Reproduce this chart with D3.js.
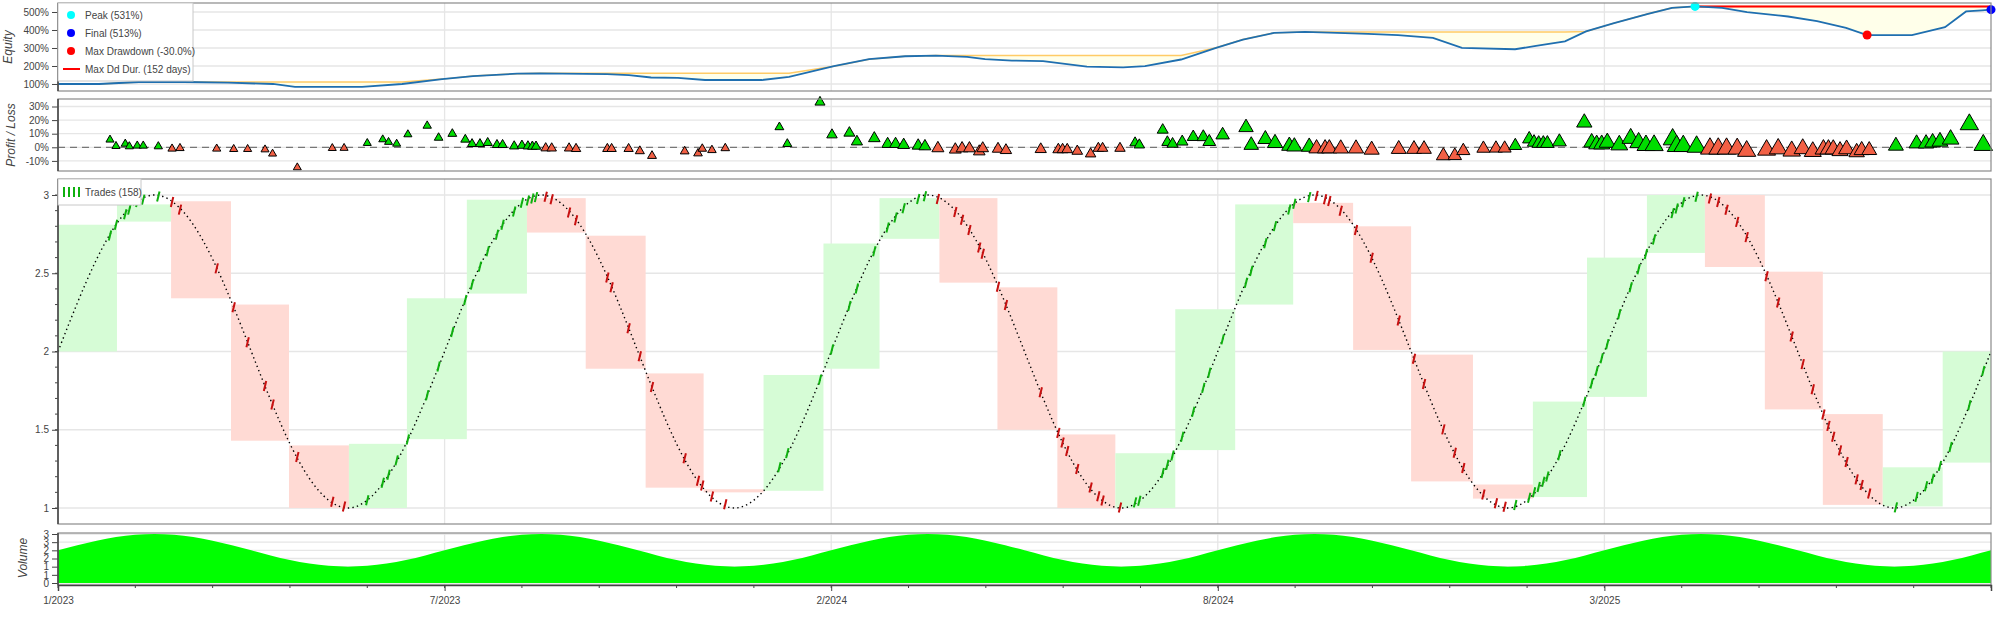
<!DOCTYPE html>
<html>
<head>
<meta charset="utf-8">
<script src="https://cdn.jsdelivr.net/npm/d3@7"></script>
<style>
  html, body { margin: 0; padding: 0; background: #fff; }
  text { font-family: "Liberation Sans", Arial, sans-serif; }
</style>
</head>
<body>
<svg id="chart" width="2000" height="624"></svg>
<script>
// ---- data (x in bar-index units, 0..100) ----
const close = [
  2.00, 2.31, 2.59, 2.81, 2.95, 3.00, 2.95, 2.81, 2.59, 2.31, 2.00, 1.69, 1.41, 1.19, 1.05, 1.00, 1.05, 1.19, 1.41, 1.69,
  2.00, 2.31, 2.59, 2.81, 2.95, 3.00, 2.95, 2.81, 2.59, 2.31, 2.00, 1.69, 1.41, 1.19, 1.05, 1.00, 1.05, 1.19, 1.41, 1.69,
  2.00, 2.31, 2.59, 2.81, 2.95, 3.00, 2.95, 2.81, 2.59, 2.31, 2.00, 1.69, 1.41, 1.19, 1.05, 1.00, 1.05, 1.19, 1.41, 1.69,
  2.00, 2.31, 2.59, 2.81, 2.95, 3.00, 2.95, 2.81, 2.59, 2.31, 2.00, 1.69, 1.41, 1.19, 1.05, 1.00, 1.05, 1.19, 1.41, 1.69,
  2.00, 2.31, 2.59, 2.81, 2.95, 3.00, 2.95, 2.81, 2.59, 2.31, 2.00, 1.69, 1.41, 1.19, 1.05, 1.00, 1.05, 1.19, 1.41, 1.69,
  2.00
];
const volume = [
  2.00, 2.31, 2.59, 2.81, 2.95, 3.00, 2.95, 2.81, 2.59, 2.31, 2.00, 1.69, 1.41, 1.19, 1.05, 1.00, 1.05, 1.19, 1.41, 1.69,
  2.00, 2.31, 2.59, 2.81, 2.95, 3.00, 2.95, 2.81, 2.59, 2.31, 2.00, 1.69, 1.41, 1.19, 1.05, 1.00, 1.05, 1.19, 1.41, 1.69,
  2.00, 2.31, 2.59, 2.81, 2.95, 3.00, 2.95, 2.81, 2.59, 2.31, 2.00, 1.69, 1.41, 1.19, 1.05, 1.00, 1.05, 1.19, 1.41, 1.69,
  2.00, 2.31, 2.59, 2.81, 2.95, 3.00, 2.95, 2.81, 2.59, 2.31, 2.00, 1.69, 1.41, 1.19, 1.05, 1.00, 1.05, 1.19, 1.41, 1.69,
  2.00, 2.31, 2.59, 2.81, 2.95, 3.00, 2.95, 2.81, 2.59, 2.31, 2.00, 1.69, 1.41, 1.19, 1.05, 1.00, 1.05, 1.19, 1.41, 1.69,
  2.00
];

// monthly (superimposed) bars
const monthStart = [0, 3.05, 5.85, 8.95, 11.95, 15.05, 18.05, 21.15, 24.26, 27.3, 30.4, 33.4, 36.5, 39.6, 42.5, 45.6, 48.6,
  51.7, 54.7, 57.8, 60.9, 63.9, 67.0, 70.0, 73.2, 76.3, 79.1, 82.2, 85.2, 88.3, 91.3, 94.4, 97.5];
const monthEnd = [3.05, 5.85, 8.95, 11.95, 15.05, 18.05, 21.15, 24.26, 27.3, 30.4, 33.4, 36.5, 39.6, 42.5, 45.6, 48.6, 51.7,
  54.7, 57.8, 60.9, 63.9, 67.0, 70.0, 73.2, 76.3, 79.1, 82.2, 85.2, 88.3, 91.3, 94.4, 97.5, 100];
const monthOpen = [2.00, 2.83, 2.96, 2.30, 1.40, 1.00, 1.44, 2.37, 2.98, 2.74, 1.86, 1.12, 1.11, 1.89, 2.72, 2.98, 2.41,
  1.47, 1.00, 1.37, 2.30, 2.95, 2.80, 1.98, 1.15, 1.07, 1.71, 2.63, 3.00, 2.51, 1.60, 1.01, 1.29];
const monthClose = [2.81, 2.94, 2.34, 1.43, 1.00, 1.41, 2.34, 2.97, 2.76, 1.89, 1.13, 1.10, 1.85, 2.69, 2.98, 2.44, 1.50,
  1.00, 1.35, 2.27, 2.94, 2.82, 2.01, 1.17, 1.06, 1.68, 2.60, 3.00, 2.54, 1.63, 1.02, 1.26, 2.00];

// trades: exit position and P/L %
const tradeX = [
  2.69, 3.0, 3.48, 3.69, 4.10, 4.41, 5.19, 5.90, 6.31, 8.21, 9.09, 9.81, 10.71, 11.1, 12.38, 14.19, 14.80,
  16.0, 16.8, 17.1, 17.52, 18.1, 19.1, 19.69, 20.4, 21.07, 21.42, 21.83, 22.23, 22.71, 23.0, 23.6, 24.0, 24.31, 24.54, 24.73, 25.23,
  25.54, 26.44, 26.8, 28.42, 28.64, 29.52, 30.1, 30.73, 32.42, 33.11, 33.33, 33.83, 34.52, 37.32, 37.73, 39.42, 40.04,
  40.94, 41.33, 42.23, 42.92, 43.33, 43.75, 44.5, 44.85, 45.52, 46.42, 46.77, 47.15, 47.66, 47.84, 48.63, 49.04, 50.84,
  51.75, 51.97, 52.21, 52.73, 53.42, 53.82, 54.04, 54.94, 55.72, 55.94, 57.15, 57.39, 57.66, 58.16, 58.73, 59.25, 59.56,
  60.25, 61.46, 61.73, 62.46, 62.96, 63.70, 63.96, 64.73, 65.11, 65.55, 65.77, 66.36, 67.15, 67.96, 69.36, 70.15, 70.67,
  71.67, 72.26, 72.70, 73.74, 74.39, 74.84, 75.39, 76.11, 76.36, 76.6, 76.84, 77.05,
  77.67, 78.96, 79.34, 79.6, 79.86, 80.15, 80.77, 81.36, 81.77, 82.15, 82.57, 83.53, 83.74, 84.08, 84.77, 85.46, 85.89,
  86.32, 86.87, 87.36, 88.39, 88.99, 89.69, 90.26, 90.78, 91.33, 91.59, 91.84, 92.19, 92.53, 93.05, 93.31, 93.7, 95.08,
  96.15, 96.64, 96.98, 97.36, 97.91, 98.88, 99.6
];
const tradePnl = [
  5.9, 1.2, 2.9, 1.0, 1.5, 1.5, 1.0, -0.7, -0.3, -0.7, -1.0, -1.0, -1.3, -4.4, -14.5, -0.3, -0.2,
  3.4, 6.1, 4.2, 2.9, 9.8, 16.2, 7.4, 10.3, 6.1, 2.9, 2.9, 3.7, 2.2, 2.2, 1.2, 1.7, 1.2, 1.0, 1.0, -0.2,
  -0.3, -0.3, -0.7, -0.7, -0.7, -0.7, -2.4, -5.9, -2.6, -4.1, -0.7, -1.7, -0.3, 15.2, 2.9, 33.6, 9.6,
  11.0, 4.6, 7.1, 2.9, 2.9, 2.2, 1.7, 1.2, -0.2, -1.2, -0.3, -0.3, -2.6, -0.3, -0.7, -1.7, -1.0,
  -1.2, -1.2, -1.2, -2.4, -4.4, -0.3, -0.3, -0.3, 3.7, 2.2, 13.2, 4.2, 2.9, 4.6, 8.1, 8.1, 4.6,
  9.6, 15.2, 2.2, 6.6, 3.7, 1.7, 1.2, 1.0, -0.2, -0.2, -0.2, -0.3, -0.3, -1.2, -0.7, -0.7, -0.7,
  -5.6, -5.6, -2.0, -0.3, -0.2, -0.2, 1.7, 6.6, 4.2, 3.4, 3.4, 3.4,
  4.6, 18.8, 4.2, 2.9, 2.9, 4.2, 2.4, 7.3, 4.2, 2.2, 2.2, 6.6, 1.7, 1.7, 1.2, -0.2, -0.2,
  -0.2, -0.3, -2.0, -1.2, -0.3, -2.0, -0.3, -2.4, -0.7, -0.7, -0.7, -2.0, -0.7, -3.0, -1.5, -1.5, 1.7,
  3.4, 3.4, 4.2, 4.9, 6.6, 17.6, 2.4
];

// equity curve (%)
const eqX = [0, 2.12, 4.19, 6.52, 8.79, 11.12, 12.26, 15.73, 17.8, 19.87, 21.47, 23.75, 24.94, 28.4, 29.54, 30.68, 32.07,
  33.47, 36.42, 37.82, 40.14, 41.96, 43.82, 45.42, 47.03, 47.96, 49.35, 50.96, 53.23, 55.1, 56.23, 58.1, 59.91, 61.3,
  62.91, 64.51, 66.17, 67.77, 69.32, 71.13, 72.63, 75.38, 76.46, 77.96, 79.05, 80.5, 82.26, 83.5, 84.69, 86.09, 87.38,
  89.5, 91.0, 92.5, 93.59, 95.91, 97.62, 98.71, 99.53, 100];
const eqVal = [100, 100, 111, 111, 107, 100, 84, 84, 100, 127, 144, 157, 159, 155, 149, 136, 134,
  122, 122, 140, 199, 238, 254, 258, 251, 238, 230, 227, 197, 192, 199, 236, 301, 347,
  384, 389, 384, 378, 371, 356, 301, 293, 312, 337, 392, 438, 490, 523, 531, 523, 499,
  475, 449, 412, 372, 372, 416, 503, 509, 513];

const xTickPos = [0, 20, 40, 60, 80];
const xTickLabels = ['1/2023', '7/2023', '2/2024', '8/2024', '3/2025'];

const peak = { x: 84.69, v: 531 }, final = { x: 100, v: 513 }, maxDd = { x: 93.59, v: 372 };

// ---- layout ----
const svg = d3.select('#chart');
const L = 58, R = 1991;
const x = d3.scaleLinear().domain([0, 100]).range([L, R]);
const GRID = '#e6e6e6', AX = '#444';

const panels = {
  eq: { top: 3, bottom: 91 },
  pl: { top: 99, bottom: 171 },
  px: { top: 179, bottom: 524 },
  vol: { top: 533, bottom: 585 }
};
const yEq = d3.scaleLinear().domain([61, 550]).range([panels.eq.bottom, panels.eq.top]);
const yPl = d3.scaleLinear().domain([0, 10]).range([147.3, 133.7]);
const yPx = d3.scaleLinear().domain([1, 3]).range([508, 195]);
const yVol = d3.scaleLinear().domain([0, 3]).range([583, 534]);

function frame(p, yScale, ticks, fmt, minor) {
  const g = svg.append('g');
  g.append('rect').attr('x', L).attr('y', p.top).attr('width', R - L).attr('height', p.bottom - p.top)
    .attr('fill', '#fff');
  // grid
  g.selectAll('line.h').data(ticks).enter().append('line')
    .attr('x1', L).attr('x2', R).attr('y1', d => yScale(d)).attr('y2', d => yScale(d))
    .attr('stroke', GRID).attr('stroke-width', 1.3);
  g.selectAll('line.v').data(xTickPos).enter().append('line')
    .attr('x1', d => x(d)).attr('x2', d => x(d)).attr('y1', p.top).attr('y2', p.bottom)
    .attr('stroke', GRID).attr('stroke-width', 1.3);
  const ax = svg.append('g').attr('transform', `translate(${L},0)`);
  if (minor) {
    ax.selectAll('line.m').data(minor).enter().append('line')
      .attr('x1', -3).attr('x2', 0).attr('y1', d => yScale(d)).attr('y2', d => yScale(d)).attr('stroke', AX);
  }
  ax.call(d3.axisLeft(yScale).tickValues(ticks).tickFormat(fmt).tickSize(6).tickPadding(3));
  ax.select('.domain').remove();
  ax.selectAll('text').attr('font-size', 10).attr('fill', '#444')
    .attr('font-family', '"Liberation Sans", Arial, sans-serif');
  ax.selectAll('.tick line').attr('stroke', AX);
  return g;
}
function border(p) {
  svg.append('rect').attr('x', L).attr('y', p.top).attr('width', R - L).attr('height', p.bottom - p.top)
    .attr('fill', 'none').attr('stroke', '#8a8a8a').attr('stroke-width', 1.2);
  svg.append('line').attr('x1', L).attr('x2', L).attr('y1', p.top).attr('y2', p.bottom)
    .attr('stroke', AX).attr('stroke-width', 1.5);
}
function yLabel(text, cy, cx) {
  svg.append('text').attr('transform', `translate(${cx},${cy}) rotate(-90)`)
    .attr('text-anchor', 'middle').attr('font-size', 12).attr('font-style', 'italic').attr('fill', '#444').text(text);
}

// ---- equity panel ----
const gEq = frame(panels.eq, yEq, [100, 200, 300, 400, 500], d => d + '%');
const eqPts = eqX.map((d, i) => ({ x: d, v: eqVal[i], m: d3.max(eqVal.slice(0, i + 1)) }));
gEq.append('path').datum(eqPts)
  .attr('d', d3.area().x(d => x(d.x)).y0(d => yEq(d.v)).y1(d => yEq(d.m)))
  .attr('fill', '#ffffea');
gEq.append('path').datum(eqPts)
  .attr('d', d3.line().x(d => x(d.x)).y(d => yEq(d.m)))
  .attr('fill', 'none').attr('stroke', '#ffcb66').attr('stroke-width', 1.5);
gEq.append('line').attr('x1', x(peak.x)).attr('x2', x(final.x)).attr('y1', yEq(peak.v)).attr('y2', yEq(peak.v))
  .attr('stroke', 'red').attr('stroke-width', 2);
gEq.append('path').datum(eqPts)
  .attr('d', d3.line().x(d => x(d.x)).y(d => yEq(d.v)))
  .attr('fill', 'none').attr('stroke', '#1f6fb0').attr('stroke-width', 1.8);
[[peak, 'cyan'], [final, 'blue'], [maxDd, 'red']].forEach(([p, c]) => {
  gEq.append('circle').attr('cx', x(p.x)).attr('cy', yEq(p.v)).attr('r', 4.5).attr('fill', c);
});
border(panels.eq);
yLabel('Equity', 47, 12);

// equity legend
const lg = svg.append('g').attr('transform', 'translate(58,3)');
lg.append('rect').attr('width', 135).attr('height', 78).attr('fill', '#fff').attr('stroke', '#c8c8c8');
const legItems = [['Peak (531%)', 'cyan'], ['Final (513%)', 'blue'], ['Max Drawdown (-30.0%)', 'red'], ['Max Dd Dur. (152 days)', 'line']];
legItems.forEach(([t, c], i) => {
  const cy = 12 + i * 18;
  if (c === 'line') lg.append('line').attr('x1', 5).attr('x2', 22).attr('y1', cy).attr('y2', cy).attr('stroke', 'red').attr('stroke-width', 2);
  else lg.append('circle').attr('cx', 13).attr('cy', cy).attr('r', 4).attr('fill', c);
  lg.append('text').attr('x', 27).attr('y', cy + 3.5).attr('font-size', 10).attr('fill', '#444').text(t);
});

// ---- P/L panel ----
const gPl = frame(panels.pl, yPl, [-10, 0, 10, 20, 30], d => d + '%');
gPl.append('line').attr('x1', L).attr('x2', R).attr('y1', yPl(0)).attr('y2', yPl(0))
  .attr('stroke', '#777').attr('stroke-width', 1.3).attr('stroke-dasharray', '7,5');
const eqAt = v => {
  const i = Math.max(1, d3.bisectLeft(eqX, v));
  const t = (v - eqX[i - 1]) / (eqX[i] - eqX[i - 1]);
  return eqVal[i - 1] + t * (eqVal[i] - eqVal[i - 1]);
};
const triSize = d3.scaleLinear().domain([100, 530]).range([8, 19]).clamp(true);
const tri = s => { const h = s * 0.866; return `M0,${-h * 0.6}L${s / 2},${h * 0.4}L${-s / 2},${h * 0.4}Z`; };
const trades = tradeX.map((d, i) => ({ x: d, pnl: tradePnl[i] }));
gPl.selectAll('path.tri').data(trades).enter().append('path')
  .attr('transform', d => `translate(${x(d.x)},${yPl(d.pnl)})`)
  .attr('d', d => tri(triSize(eqAt(d.x))))
  .attr('fill', d => d.pnl > 0 ? '#00dd00' : '#f26045')
  .attr('stroke', '#000').attr('stroke-width', 1);
border(panels.pl);
yLabel('Profit / Loss', 135, 15);

// ---- price panel ----
const gPx = frame(panels.px, yPx, [1, 1.5, 2, 2.5, 3], d => d3.format('~g')(d), d3.range(10, 31).map(d => d / 10));
gPx.selectAll('rect.m').data(monthStart).enter().append('rect')
  .attr('x', d => x(d)).attr('width', (d, i) => x(monthEnd[i]) - x(d))
  .attr('y', (d, i) => yPx(Math.max(monthOpen[i], monthClose[i])))
  .attr('height', (d, i) => Math.max(1.5, Math.abs(yPx(monthOpen[i]) - yPx(monthClose[i]))))
  .attr('fill', (d, i) => monthClose[i] >= monthOpen[i] ? '#d6fcd6' : '#ffdad4');
gPx.append('path').datum(close)
  .attr('d', d3.line().x((d, i) => x(i)).y(d => yPx(d)).curve(d3.curveNatural))
  .attr('fill', 'none').attr('stroke', '#000').attr('stroke-width', 1.4).attr('stroke-dasharray', '1.4,3.2');
const priceAt = v => {
  const i = Math.min(99, Math.floor(v)), t = v - i;
  return close[i] + t * (close[i + 1] - close[i]);
};
gPx.selectAll('line.tr').data(trades).enter().append('line')
  .attr('x1', d => x(d.x) - 1.2).attr('x2', d => x(d.x) + 1.2)
  .attr('y1', d => yPx(priceAt(d.x)) + 5).attr('y2', d => yPx(priceAt(d.x)) - 5)
  .attr('stroke', d => d.pnl > 0 ? '#0fb00f' : '#c81010').attr('stroke-width', 2);
border(panels.px);
const tl = svg.append('g').attr('transform', 'translate(58,179)');
tl.append('rect').attr('width', 83).attr('height', 26).attr('fill', '#fff').attr('stroke', '#c8c8c8');
[0, 1, 2, 3].forEach(i => tl.append('line').attr('x1', 6 + i * 5).attr('x2', 6 + i * 5).attr('y1', 8).attr('y2', 18)
  .attr('stroke', '#0fb00f').attr('stroke-width', 2));
tl.append('text').attr('x', 27).attr('y', 17).attr('font-size', 10).attr('fill', '#444').text('Trades (158)');

// ---- volume panel ----
const gVol = frame(panels.vol, yVol, [0, 0.5, 1, 1.5, 2, 2.5, 3], d => Math.round(d));
gVol.append('path').datum(volume)
  .attr('d', d3.area().x((d, i) => x(i)).y0(yVol(0)).y1(d => yVol(d)).curve(d3.curveNatural))
  .attr('fill', '#00ff00');
border(panels.vol);
yLabel('Volume', 558, 27);

// ---- x axis ----
const xa = svg.append('g').attr('transform', `translate(0,${panels.vol.bottom})`);
xa.selectAll('line.mn').data(d3.range(0, 101, 4)).enter().append('line')
  .attr('x1', d => x(d)).attr('x2', d => x(d)).attr('y1', 0).attr('y2', 3).attr('stroke', AX);
xa.call(d3.axisBottom(x).tickValues(xTickPos).tickFormat((d, i) => xTickLabels[i]).tickSize(6).tickPadding(6));
xa.select('.domain').attr('stroke', AX).attr('stroke-width', 1.5);
xa.selectAll('text').attr('font-size', 10).attr('fill', '#444')
  .attr('font-family', '"Liberation Sans", Arial, sans-serif');
xa.selectAll('.tick line').attr('stroke', AX);
</script>
</body>
</html>
